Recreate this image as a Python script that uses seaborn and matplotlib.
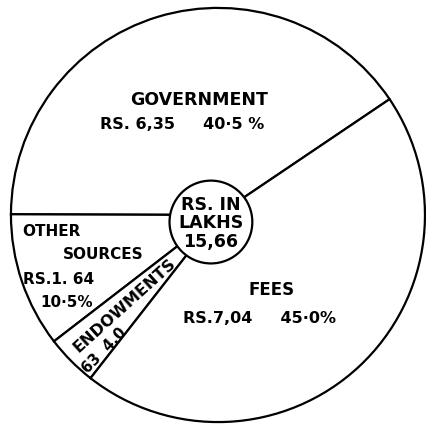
import matplotlib
matplotlib.use("Agg")
import matplotlib.pyplot as plt
import seaborn as sns

# sources of income, Rs. in lakhs (total 15,66)
sources = ["GOVERNMENT", "OTHER SOURCES", "ENDOWMENTS", "FEES"]
shares = [40.5, 10.5, 4.0, 45.0]
amounts = ["6,35", "1,64", "63", "7,04"]
total = "15,66"

sns.set_theme(style="white")
plt.rcParams["font.family"] = ["DejaVu Sans"]

fig = plt.figure(figsize=(4.26, 4.27), dpi=100)
ax = fig.add_axes([0, 0, 1, 1])

ax.pie(shares, startangle=34, counterclock=True, radius=1.0,
       wedgeprops=dict(facecolor="white", edgecolor="black", linewidth=1.6))

# centre circle
ax.add_patch(plt.Circle((-0.034, -0.034), 0.2, facecolor="white",
                        edgecolor="black", linewidth=1.6, zorder=5))
ax.text(-0.034, -0.035, "RS. IN\nLAKHS\n" + total, ha="center", va="center",
        fontsize=12.5, fontweight="bold", color="black", linespacing=1.05, zorder=6)

fw = dict(fontweight="bold", color="black")

# government
ax.text(-0.092, 0.56, sources[0], ha="center", va="center", fontsize=12.5, **fw)
ax.text(-0.174, 0.44, "RS. 6,35     40·5 %", ha="center", va="center", fontsize=11.5, **fw)

# other sources
ax.text(-0.945, -0.077, "OTHER", ha="left", va="center", fontsize=11, **fw)
ax.text(-0.75, -0.188, "SOURCES", ha="left", va="center", fontsize=11, **fw)
ax.text(-0.94, -0.309, "RS.1. 64", ha="left", va="center", fontsize=11, **fw)
ax.text(-0.86, -0.42, "10·5%", ha="left", va="center", fontsize=11, **fw)

# endowments
ax.text(-0.45, -0.43, sources[2], ha="center", va="center", rotation=42,
        fontsize=11.5, **fw)
ax.text(-0.55, -0.65, "63  4.0", ha="center", va="center", rotation=46,
        fontsize=10.5, **fw)

# fees
ax.text(0.261, -0.357, sources[3], ha="center", va="center", fontsize=12, **fw)
ax.text(0.203, -0.493, "RS.7,04     45·0%", ha="center", va="center", fontsize=11.5, **fw)

ax.set_xlim(-1.053, 1.005)
ax.set_ylim(-1.019, 1.043)
ax.set_aspect("auto")
ax.axis("off")

fig.savefig("out.png", dpi=100, facecolor="white")
